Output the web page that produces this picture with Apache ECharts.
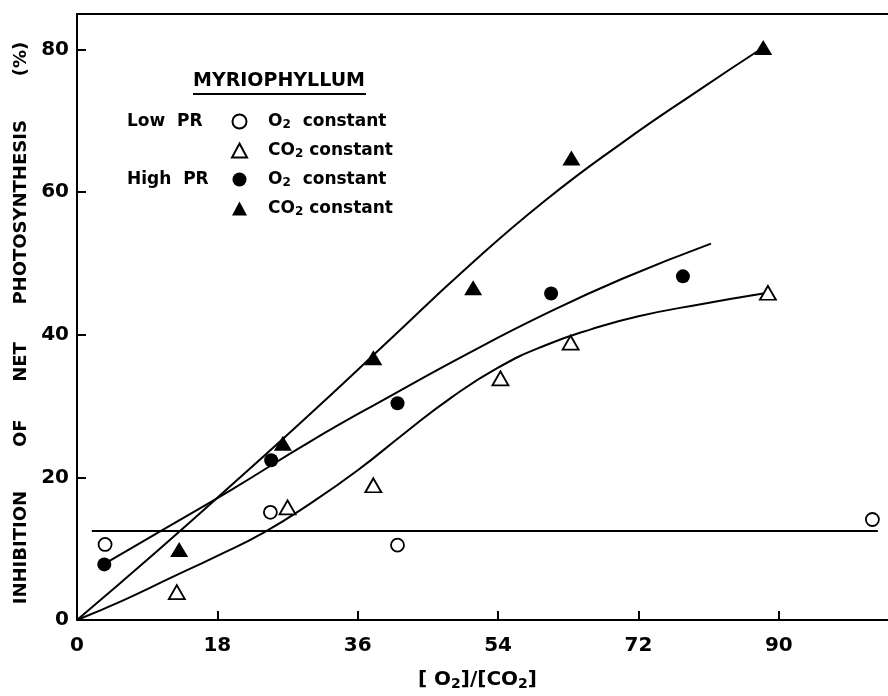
<!DOCTYPE html>
<html>
<head>
<meta charset="utf-8">
<script src="https://cdn.jsdelivr.net/npm/echarts@6/dist/echarts.min.js"></script>
<style>
  html, body { margin: 0; padding: 0; background: #fff; }
  #chart { width: 888px; height: 696px; }
</style>
</head>
<body>
<div id="chart"></div>
<script>
// measured points, [O2]/[CO2] vs inhibition (%)
const lowO2X = [3.6, 24.8, 41.1, 102];
const lowO2Y = [10.6, 15.1, 10.5, 14.1];
const lowCO2X = [12.8, 27.0, 38.0, 54.3, 63.3, 88.6];
const lowCO2Y = [3.9, 15.8, 18.9, 33.9, 38.9, 45.9];
const highO2X = [3.5, 24.9, 41.1, 60.8, 77.7];
const highO2Y = [7.8, 22.4, 30.4, 45.8, 48.2];
const highCO2X = [13.1, 26.4, 38.0, 50.8, 63.4, 88.0];
const highCO2Y = [9.9, 24.8, 36.8, 46.6, 64.8, 80.3];

// hand-drawn fitted curves
const fitHighCO2X = [0, 10, 20, 30, 40, 50, 60, 70, 80, 88];
const fitHighCO2Y = [0, 9.4, 19.1, 29.0, 39.2, 49.4, 58.8, 67.0, 74.5, 80.3];
const fitHighO2X = [3.4, 10, 20, 30, 40, 50, 60, 70, 81.3];
const fitHighO2Y = [7.8, 12.0, 18.4, 25.1, 31.3, 37.3, 42.9, 47.9, 52.8];
const fitLowCO2X = [0, 6, 12, 18, 24, 30, 36, 42, 48, 54, 60, 66, 72, 80, 88];
const fitLowCO2Y = [0, 2.8, 5.9, 9.0, 12.3, 16.4, 21.0, 26.2, 31.2, 35.4, 38.5, 40.8, 42.6, 44.3, 45.8];
const fitLowO2X = [1.9, 102.7];
const fitLowO2Y = [12.5, 12.5];

const xTicks = [0, 18, 36, 54, 72, 90];
const yTicks = [0, 20, 40, 60, 80];

const zip = (xs, ys) => xs.map((x, i) => [x, ys[i]]);
const FONT = 'DejaVu Sans';

const chart = echarts.init(document.getElementById('chart'));

const fitLine = (xs, ys, smooth) => ({
  type: 'line',
  data: zip(xs, ys),
  showSymbol: false,
  smooth: smooth,
  silent: true,
  lineStyle: { color: '#000', width: 2 },
  z: 1,
});

const legendFmt = {
  'O2 constant': '{t|O}{s|2}{t|  constant}',
  'CO2 constant ': '{t|CO}{s|2}{t| constant}',
  'O2 constant ': '{t|O}{s|2}{t|  constant}',
  'CO2 constant': '{t|CO}{s|2}{t| constant}',
};

const option = {
  animation: false,
  backgroundColor: '#fff',
  grid: { left: 77, right: 0, top: 14, bottom: 76, outerBoundsMode: 'none' },
  xAxis: [
    {
      type: 'value',
      min: 0,
      max: 104,
      interval: 18,
      name: '{t|[ O}{s|2}{t|]/[CO}{s|2}{t|]}',
      nameLocation: 'middle',
      nameGap: 49,
      nameTextStyle: {
        padding: [0, 10, 0, 0],
        rich: {
          t: { fontFamily: FONT, fontWeight: 'bold', fontSize: 20, color: '#000' },
          s: { fontFamily: FONT, fontWeight: 'bold', fontSize: 14, color: '#000', padding: [8, 0, 0, 0] },
        },
      },
      axisLine: { lineStyle: { color: '#000', width: 2 } },
      axisTick: { inside: true, length: 9, customValues: xTicks, lineStyle: { color: '#000', width: 2 } },
      splitLine: { show: false },
      axisLabel: {
        margin: 16,
        customValues: xTicks,
        fontFamily: FONT,
        fontWeight: 'bold',
        fontSize: 20,
        color: '#000',
      },
    },
    {
      type: 'value',
      position: 'top',
      min: 0,
      max: 104,
      axisLine: { show: true, lineStyle: { color: '#000', width: 2 } },
      axisTick: { show: false },
      axisLabel: { show: false },
      splitLine: { show: false },
    },
  ],
  yAxis: {
    type: 'value',
    min: 0,
    max: 85,
    interval: 20,
    name: 'INHIBITION       OF      NET      PHOTOSYNTHESIS       (%)',
    nameLocation: 'middle',
    nameRotate: 90,
    nameGap: 44,
    nameTextStyle: {
      fontFamily: FONT,
      fontWeight: 'bold',
      fontSize: 18,
      color: '#000',
      padding: [0, 12, 0, 0],
    },
    axisLine: { show: true, lineStyle: { color: '#000', width: 2 } },
    axisTick: { show: true, inside: true, length: 9, customValues: yTicks, lineStyle: { color: '#000', width: 2 } },
    splitLine: { show: false },
    axisLabel: {
      margin: 8,
      customValues: yTicks,
      fontFamily: FONT,
      fontWeight: 'bold',
      fontSize: 20,
      color: '#000',
    },
  },
  legend: {
    left: 226,
    top: 108,
    orient: 'vertical',
    itemWidth: 15,
    itemHeight: 14,
    itemGap: 11,
    data: ['O2 constant', 'CO2 constant ', 'O2 constant ', 'CO2 constant'],
    formatter: (n) => legendFmt[n],
    textStyle: {
      padding: [0, 0, 0, 16],
      rich: {
        t: { fontFamily: FONT, fontWeight: 'bold', fontSize: 17, color: '#000' },
        s: { fontFamily: FONT, fontWeight: 'bold', fontSize: 12, color: '#000', padding: [7, 0, 0, 0] },
      },
    },
  },
  graphic: [
    {
      type: 'text',
      left: 193,
      top: 72,
      style: { text: 'MYRIOPHYLLUM', fontFamily: FONT, fontWeight: 'bold', fontSize: 19, fill: '#000' },
    },
    {
      type: 'line',
      shape: { x1: 193, y1: 94, x2: 366, y2: 94 },
      style: { stroke: '#000', lineWidth: 2 },
    },
    {
      type: 'text',
      left: 127,
      top: 113,
      style: { text: 'Low  PR', fontFamily: FONT, fontWeight: 'bold', fontSize: 17, fill: '#000' },
    },
    {
      type: 'text',
      left: 127,
      top: 171,
      style: { text: 'High  PR', fontFamily: FONT, fontWeight: 'bold', fontSize: 17, fill: '#000' },
    },
  ],
  series: [
    fitLine(fitHighCO2X, fitHighCO2Y, 0.5),
    fitLine(fitHighO2X, fitHighO2Y, 0.5),
    fitLine(fitLowCO2X, fitLowCO2Y, 0.5),
    fitLine(fitLowO2X, fitLowO2Y, false),
    {
      name: 'O2 constant',
      type: 'scatter',
      data: zip(lowO2X, lowO2Y),
      symbol: 'circle',
      symbolSize: 13,
      itemStyle: { color: '#fff', borderColor: '#000', borderWidth: 1.8, opacity: 1 },
      z: 3,
    },
    {
      name: 'CO2 constant ',
      type: 'scatter',
      data: zip(lowCO2X, lowCO2Y),
      symbol: 'triangle',
      symbolSize: [16, 14],
      itemStyle: { color: '#fff', borderColor: '#000', borderWidth: 1.8, opacity: 1 },
      z: 3,
    },
    {
      name: 'O2 constant ',
      type: 'scatter',
      data: zip(highO2X, highO2Y),
      symbol: 'circle',
      symbolSize: 14,
      itemStyle: { color: '#000', opacity: 1 },
      z: 3,
    },
    {
      name: 'CO2 constant',
      type: 'scatter',
      data: zip(highCO2X, highCO2Y),
      symbol: 'triangle',
      symbolSize: [18, 15],
      itemStyle: { color: '#000', opacity: 1 },
      z: 3,
    },
  ],
};

chart.setOption(option);
</script>
</body>
</html>
